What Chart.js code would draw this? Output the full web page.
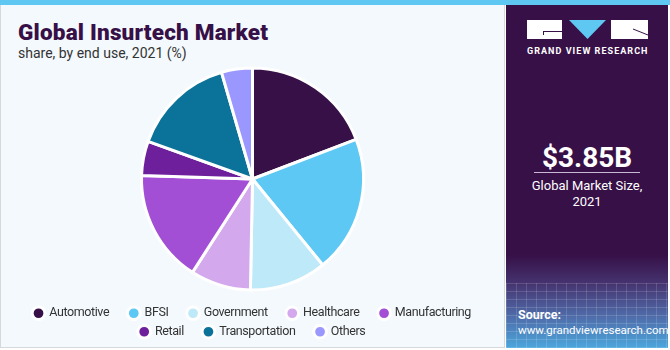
<!DOCTYPE html>
<html>
<head>
<meta charset="utf-8">
<script src="https://cdn.jsdelivr.net/npm/chart.js@4.4.0/dist/chart.umd.min.js"></script>
<style>
  body { margin: 0; width: 670px; height: 350px; overflow: hidden; font-family: Roboto, "Liberation Sans", sans-serif; background: #fff; }
  #wrap { position: relative; width: 670px; height: 350px; }
  #topbar { position: absolute; left: 0; top: 0; width: 670px; height: 5px; background: #5ec8f2; }
  #left { position: absolute; left: 0; top: 5px; width: 503px; height: 342px; background: #f4f9fd; border: 1px solid #d6d9dc; border-top: none; }
  #title { position: absolute; left: 17px; top: 14px; font-size: 22.5px; font-weight: 900; color: #371047; letter-spacing: 0.2px; }
  #subtitle { position: absolute; left: 17px; top: 40px; font-size: 14px; color: #333; }
  #chartbox { position: absolute; left: 0; top: 57px; width: 505px; height: 291px; }
  #right { position: absolute; left: 506px; top: 5px; width: 162px; height: 343px; background: #371047; overflow: hidden; }
  #fade { position: absolute; left: 0; top: 250px; width: 162px; height: 93px;
    background: linear-gradient(180deg, #371047 0%, #45336f 30%, #4f6aa8 65%, #4ba6dc 100%); }
  #grid { position: absolute; left: 0; top: 278px; width: 162px; height: 65px;
    background:
      repeating-linear-gradient(90deg, rgba(255,255,255,0.14) 0 1px, transparent 1px 10px),
      repeating-linear-gradient(0deg, rgba(255,255,255,0.14) 0 1px, transparent 1px 8px); }
  .logo { position: absolute; background: #fff; }
  #gvr { position: absolute; left: 21px; top: 41px; font-size: 9px; font-weight: bold; color: #fff; letter-spacing: 1.05px; white-space: nowrap; }
  #value { position: absolute; left: 0; width: 162px; top: 136px; text-align: center; font-size: 28px; font-weight: bold; color: #fff; }
  #rule { position: absolute; left: 28px; width: 106px; top: 167px; height: 1px; background: #cbb8d6; }
  #desc { position: absolute; left: 0; width: 162px; top: 173px; text-align: center; font-size: 13px; color: #fff; line-height: 16px; }
  #source { position: absolute; left: 12px; top: 302px; font-size: 11.5px; color: #fff; line-height: 15px; white-space: nowrap; }
  #source b { font-size: 12.5px; }
</style>
</head>
<body>
<div id="wrap">
  <div id="topbar"></div>
  <div id="left">
    <div id="title">Global Insurtech Market</div>
    <div id="subtitle">share, by end use, 2021 (%)</div>
  </div>
  <div id="chartbox"><canvas id="pieChart"></canvas></div>
  <div id="right">
    <div id="fade"></div>
    <div id="grid"></div>
    <div class="logo" style="left:21px; top:15px; width:35px; height:19px;"></div>
    <div style="position:absolute; left:37px; top:26px; width:19px; height:1px; background:#371047;"></div>
    <div style="position:absolute; left:37px; top:26px; width:1px; height:4px; background:#371047;"></div>
    <svg style="position:absolute; left:63px; top:15px;" width="37" height="19"><polygon points="0,0 37,0 18.5,19" fill="#5ec8f2"/></svg>
    <div class="logo" style="left:105px; top:15px; width:37px; height:19px;"></div>
    <svg style="position:absolute; left:105px; top:15px;" width="37" height="19"><line x1="22" y1="9" x2="37" y2="15" stroke="#371047" stroke-width="1"/></svg>
    <div id="gvr">GRAND VIEW RESEARCH</div>
    <div id="value">$3.85B</div>
    <div id="rule"></div>
    <div id="desc">Global Market Size,<br>2021</div>
    <div id="source"><b>Source:</b><br>www.grandviewresearch.com</div>
  </div>
</div>
<script>
const categories = ['Automotive', 'BFSI', 'Government', 'Healthcare', 'Manufacturing', 'Retail', 'Transportation', 'Others'];
const shares = [19.2, 19.9, 11.2, 8.8, 16.4, 5.0, 15.0, 4.5];
const colors = ['#371047', '#5ec8f5', '#bde9f9', '#d4a8ec', '#a24fd6', '#6e1f9c', '#0b7399', '#9a97ff'];

// legend rows end after these items; the others get a little extra space after the text
const rowEnds = ['Manufacturing', 'Others'];

// the original legend font is a narrow one, so squeeze the letters a bit
const tightText = {
    id: 'tightText',
    beforeUpdate(chart) { chart.ctx.letterSpacing = '-0.4px'; },
    beforeDraw(chart) { chart.ctx.letterSpacing = '-0.4px'; }
};

const ctx = document.getElementById('pieChart').getContext('2d');
const pieChart = new Chart(ctx, {
    type: 'pie',
    data: {
        labels: categories,
        datasets: [{
            data: shares,
            backgroundColor: colors,
            borderColor: '#ffffff',
            borderWidth: 3
        }]
    },
    options: {
        responsive: true,
        maintainAspectRatio: false,
        animation: false,
        radius: 111,
        layout: { padding: { left: 10, right: 10 } },
        plugins: {
            legend: {
                display: true,
                position: 'bottom',
                labels: {
                    usePointStyle: true,
                    pointStyle: 'circle',
                    boxWidth: 9,
                    boxHeight: 9,
                    padding: 6,
                    color: '#333333',
                    font: { family: 'Roboto', size: 12.5 },
                    generateLabels: (chart) => {
                        const items = Chart.overrides.pie.plugins.legend.labels.generateLabels(chart);
                        items.forEach(item => {
                            if (!rowEnds.includes(item.text)) item.text += '\u2002\u2002\u2009';
                        });
                        return items;
                    }
                }
            },
            tooltip: { enabled: false }
        }
    },
    plugins: [tightText]
});
</script>
</body>
</html>
